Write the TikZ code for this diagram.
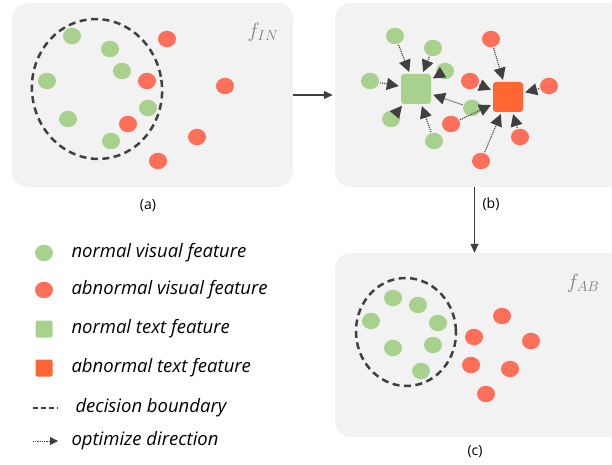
\documentclass[tikz,border=0pt]{standalone}
\usepackage{fontspec}
\setmainfont{Open Sans}
\usetikzlibrary{shapes.geometric,arrows.meta}
\definecolor{normgreen}{HTML}{A9D18E}
\definecolor{abnred}{HTML}{FF6F5A}
\definecolor{abnsq}{HTML}{FF6633}
\definecolor{panelbg}{HTML}{F2F2F2}
\definecolor{linegray}{HTML}{404040}
\begin{document}
\begin{tikzpicture}[
            x=1pt, y=-1pt,
            panel/.style={rectangle, fill=panelbg, rounded corners=16pt, inner sep=0pt},
            nvis/.style={ellipse, fill=normgreen, minimum width=18pt, minimum height=16.5pt, inner sep=0pt},
            avis/.style={nvis, fill=abnred},
            ntxt/.style={rectangle, rounded corners=3pt, fill=normgreen, minimum size=30pt, inner sep=0pt},
            atxt/.style={ntxt, fill=abnsq},
            bound/.style={draw=linegray, line width=2.5pt, dash pattern=on 7pt off 4.5pt},
            optim/.style={draw=linegray, densely dotted, line width=1.1pt, -{Triangle[length=12pt,width=12pt]}, shorten >=2pt, shorten <=1pt},
            flow/.style={draw=linegray, line width=1.1pt, -{Triangle[length=9pt,width=8pt]}},
            caption/.style={font=\fontsize{14}{16}\selectfont},
            legend/.style={font=\fontsize{18.5}{20}\selectfont\itshape, anchor=west},
            fname/.style={text=gray, font=\fontsize{22}{24}\selectfont}
            ]
        \useasboundingbox (0,0) rectangle (612,465);
        % panels
        \node[panel, minimum width=281pt, minimum height=184pt] (pa) at (152.5,95) {};
        \node[panel, minimum width=290pt, minimum height=184pt] (pb) at (480,95) {};
        \node[panel, minimum width=290pt, minimum height=184pt] (pc) at (480,345) {};
        \node[fname] (fin) at (263,32) {$f_{IN}$};
        \node[fname] (fab) at (583,283) {$f_{AB}$};
        \node[caption] (capa) at (148,206) {(a)};
        \node[caption] (capb) at (491,204) {(b)};
        \node[caption] (capc) at (475,452) {(c)};

        % (a) features before training
        \draw[bound, rotate around={8:(97,89)}] (97,89) ellipse [x radius=65, y radius=70];
        \node[nvis] (a-g1) at (72,36) {};
        \node[nvis] (a-g2) at (110,49) {};
        \node[nvis] (a-g3) at (122,71) {};
        \node[nvis] (a-g4) at (47,81) {};
        \node[nvis] (a-g5) at (148,108) {};
        \node[nvis] (a-g6) at (68,119) {};
        \node[nvis] (a-g7) at (111,141) {};
        \node[avis] (a-r1) at (167,39) {};
        \node[avis] (a-r2) at (147,81) {};
        \node[avis] (a-r3) at (225,86) {};
        \node[avis] (a-r4) at (128,124) {};
        \node[avis] (a-r5) at (197,137) {};
        \node[avis] (a-r6) at (158,161) {};

        % (b) optimizing
        \node[ntxt] (b-gs) at (416,89) {};
        \node[atxt] (b-rs) at (508,97) {};
        \node[nvis] (b-g1) at (395,36) {};
        \node[nvis] (b-g2) at (433,48) {};
        \node[nvis] (b-g3) at (445,71) {};
        \node[nvis] (b-g4) at (370,81) {};
        \node[nvis] (b-g5) at (472,108) {};
        \node[nvis] (b-g6) at (391,119) {};
        \node[nvis] (b-g7) at (434,141) {};
        \node[avis] (b-r1) at (491,39) {};
        \node[avis] (b-r2) at (470,81) {};
        \node[avis] (b-r3) at (549,86) {};
        \node[avis] (b-r4) at (451,124) {};
        \node[avis] (b-r5) at (520,137) {};
        \node[avis] (b-r6) at (481,161) {};
        \foreach \i in {1,...,7}
            \draw[optim] (b-g\i) -- (b-gs);
        \foreach \i in {1,...,6}
            \draw[optim] (b-r\i) -- (b-rs);

        % (c) features after training
        \draw[bound, rotate around={4:(406,332)}] (406,332) ellipse [x radius=50, y radius=54];
        \node[nvis] (c-g1) at (393,298) {};
        \node[nvis] (c-g2) at (418,305) {};
        \node[nvis] (c-g3) at (371,321) {};
        \node[nvis] (c-g4) at (438,323) {};
        \node[nvis] (c-g5) at (393,348) {};
        \node[nvis] (c-g6) at (433,345) {};
        \node[nvis] (c-g7) at (421,371) {};
        \node[avis] (c-r1) at (502,316) {};
        \node[avis] (c-r2) at (474,337) {};
        \node[avis] (c-r3) at (531,341) {};
        \node[avis] (c-r4) at (471,365) {};
        \node[avis] (c-r5) at (510,369) {};
        \node[avis] (c-r6) at (486,394) {};

        % flow between panels
        \draw[flow] (pa.east) -- ([xshift=-2pt]pb.west);
        \draw[flow] ([xshift=-5.5pt]pb.south) -- ([xshift=-5.5pt]pc.north);

        % legend
        \node[nvis] (l-nv) at (44,253) {};
        \node[avis] (l-av) at (44,290) {};
        \node[ntxt, minimum size=17pt, rounded corners=2pt] (l-nt) at (44,329) {};
        \node[atxt, minimum size=17pt, rounded corners=2pt] (l-at) at (44,368) {};
        \coordinate (l-b1) at (33,408);
        \coordinate (l-b2) at (58,408);
        \draw[bound, line width=1.8pt, dash pattern=on 5pt off 3pt] (l-b1) -- (l-b2);
        \coordinate (l-o1) at (33,441);
        \coordinate (l-o2) at (58,441);
        \draw[optim, line width=0.8pt, shorten >=0pt, shorten <=0pt, -{Triangle[length=8pt,width=8pt]}] (l-o1) -- (l-o2);
        \node[legend] (t-nv) at (68,253) {normal visual feature};
        \node[legend] (t-av) at (68,290) {abnormal visual feature};
        \node[legend] (t-nt) at (68,329) {normal text feature};
        \node[legend] (t-at) at (68,368) {abnormal text feature};
        \node[legend] (t-b) at (72,408) {decision boundary};
        \node[legend] (t-o) at (68,441) {optimize direction};
        \end{tikzpicture}
\end{document}
